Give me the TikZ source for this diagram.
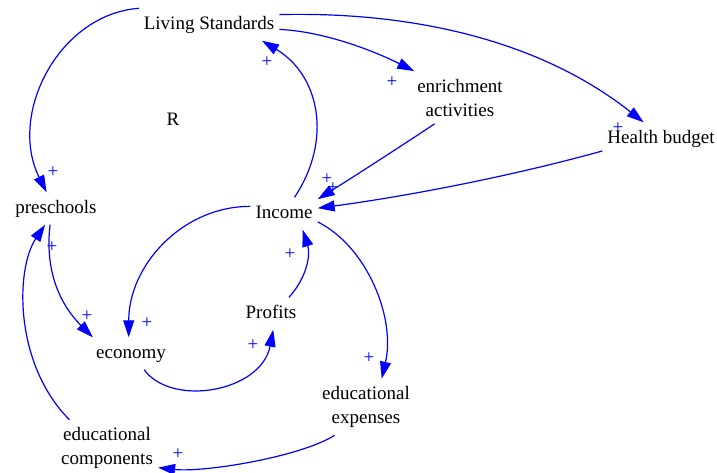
\documentclass[tikz,border=0pt]{standalone}
\usepackage{fontspec}
\setmainfont{Liberation Serif}
\usepackage{tikz}
\usetikzlibrary{arrows.meta}

\tikzset{
    var/.style={font=\fontsize{19}{24}\selectfont, inner xsep=5pt, inner ysep=7.5pt, align=center},
    one/.style={text height=13pt, text depth=4pt},
    sgn/.style={font=\fontsize{19}{24}\selectfont, text=blue, inner sep=0pt},
    lnk/.style={draw=blue, line width=1.2pt, -{Triangle[length=17pt,width=11pt]}}
}

\begin{document}
\begin{tikzpicture}[x=1pt, y=-1pt]
    \useasboundingbox (0,0) rectangle (717,472);

    % variables
    \node[var, one] (ls)   at (209,24.5)  {Living Standards};
    \node[var, one] (r)    at (173,120.5) {R};
    \node[var]      (enr)  at (460,97.5)  {enrichment\\activities};
    \node[var, one] (hb)   at (661,138.5) {Health budget};
    \node[var, one] (pre)  at (56,208.5)  {preschools};
    \node[var, one] (inc)  at (284,213.5) {Income};
    \node[var, one] (prof) at (271,313.5) {Profits};
    \node[var, one] (eco)  at (131,353.5) {economy};
    \node[var]      (exp)  at (366,407)   {educational\\expenses};
    \node[var]      (comp) at (107,448)   {educational\\components};

    % polarity signs
    \foreach \px/\py [count=\i] in {53/172, 267/62, 392/82, 618/128, 327/179, 333/188, 147/323,
                                    87/316, 253/345, 290/254, 369/358, 178/454, 52/247}
        \node[sgn] (s\i) at (\px,\py) {+};

    % links
    \draw[lnk] (ls.167) .. controls +(-80,6) and +(-39,-78) .. (pre.120);
    \draw[lnk] (inc.57) .. controls +(38,-57) and +(58,35) .. (ls.-17);
    \draw[lnk] (ls.-4) .. controls +(45,2) and +(-40,-20) .. (enr.150);
    \draw[lnk] (ls.8) .. controls +(121,-3) and +(-110,-87) .. (hb.137);
    \draw[lnk] (enr.226) .. controls +(-30,20) and +(40,-25) .. (inc.23);
    \draw[lnk] (hb.192) .. controls +(-90,25) and +(90,-12) .. (inc.9);
    \draw[lnk] (inc.168) .. controls +(-68,0) and +(0,-72) .. (eco.98);
    \draw[lnk] (pre.-110) .. controls +(-6,50) and +(-30,-30) .. (eco.157);
    \draw[lnk] (eco.-51) .. controls +(28,38) and +(-12,62) .. (prof.-82);
    \draw[lnk] (prof.42) .. controls +(18,-20) and +(8,25) .. (inc.-41);
    \draw[lnk] (inc.-14) .. controls +(50,25) and +(14,-60) .. (exp.61);
    \draw[lnk] (exp.222) .. controls +(-35,22) and +(45,5) .. (comp.-21);
    \draw[lnk] (comp.143) .. controls +(-55,-55) and +(-30,45) .. (pre.-124);
\end{tikzpicture}
\end{document}
